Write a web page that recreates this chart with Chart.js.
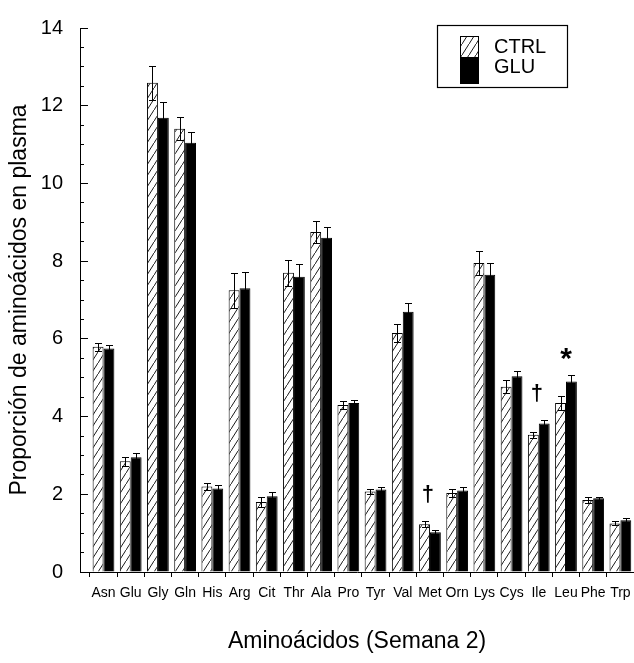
<!DOCTYPE html>
<html>
<head>
<meta charset="utf-8">
<script src="https://cdn.jsdelivr.net/npm/chart.js@4.4.1/dist/chart.umd.min.js"></script>
<style>
  html, body { margin: 0; padding: 0; background: #fff; }
  canvas { display: block; }
</style>
</head>
<body>
<canvas id="chart" width="634" height="663"></canvas>
<script>
const aminoAcids = ['Asn', 'Glu', 'Gly', 'Gln', 'His', 'Arg', 'Cit', 'Thr', 'Ala', 'Pro',
    'Tyr', 'Val', 'Met', 'Orn', 'Lys', 'Cys', 'Ile', 'Leu', 'Phe', 'Trp'];
const ctrlValues = [5.80, 2.85, 12.59, 11.41, 2.20, 7.25, 1.80, 7.70, 8.75, 4.30,
    2.07, 6.15, 1.23, 2.03, 7.95, 4.77, 3.53, 4.35, 1.85, 1.25];
const ctrlErrors = [0.10, 0.12, 0.44, 0.29, 0.08, 0.45, 0.12, 0.33, 0.28, 0.10,
    0.07, 0.22, 0.08, 0.10, 0.30, 0.16, 0.08, 0.17, 0.07, 0.05];
const gluValues = [5.75, 2.95, 11.69, 11.05, 2.15, 7.30, 1.95, 7.60, 8.60, 4.35,
    2.12, 6.70, 1.02, 2.10, 7.65, 5.04, 3.82, 4.90, 1.90, 1.33];
const gluErrors = [0.10, 0.12, 0.40, 0.27, 0.08, 0.43, 0.12, 0.33, 0.28, 0.08,
    0.07, 0.22, 0.05, 0.10, 0.30, 0.13, 0.08, 0.16, 0.04, 0.06];
// significance marks above each pair ('' = none)
const markers = ['', '', '', '', '', '', '', '', '', '',
    '', '', '\u2020', '', '', '', '\u2020', '*', '', ''];

const FONT = "'Liberation Sans', Arial, Helvetica, sans-serif";

function hatchPattern() {
    const c = document.createElement('canvas');
    c.width = 7;
    c.height = 11;
    const g = c.getContext('2d');
    g.fillStyle = '#fff';
    g.fillRect(0, 0, 7, 11);
    g.strokeStyle = '#000';
    g.lineWidth = 0.9;
    g.beginPath();
    g.moveTo(-1, 11 + 11 / 7);
    g.lineTo(8, -11 / 7);
    g.stroke();
    return g.createPattern(c, 'repeat');
}
const hatch = hatchPattern();

const toPoints = (vals) => vals.map((v, i) => ({ x: i, y: v }));

// error bars drawn from the bar elements and the y scale
const errorBars = {
    id: 'errorBars',
    afterDatasetsDraw(chart) {
        const ctx = chart.ctx;
        const y = chart.scales.y;
        chart.data.datasets.forEach((ds, di) => {
            const meta = chart.getDatasetMeta(di);
            meta.data.forEach((bar, i) => {
                const v = ds.data[i].y;
                const e = ds.errors[i];
                const x = Math.round(bar.x) + 0.5;
                const top = Math.round(y.getPixelForValue(v + e)) + 0.5;
                const bot = Math.round(y.getPixelForValue(v - e)) + 0.5;
                ctx.save();
                ctx.strokeStyle = '#000';
                ctx.lineWidth = 1;
                ctx.beginPath();
                ctx.moveTo(x, top); ctx.lineTo(x, bot);
                ctx.moveTo(x - 3.5, top); ctx.lineTo(x + 3.5, top);
                ctx.moveTo(x - 3.5, bot); ctx.lineTo(x + 3.5, bot);
                ctx.stroke();
                ctx.restore();
            });
        });
    }
};

const sigMarks = {
    id: 'sigMarks',
    afterDatasetsDraw(chart) {
        const ctx = chart.ctx;
        const xs = chart.scales.x;
        const y = chart.scales.y;
        markers.forEach((m, i) => {
            if (!m) return;
            const cap = Math.max(ctrlValues[i] + ctrlErrors[i], gluValues[i] + gluErrors[i]);
            const py = y.getPixelForValue(cap);
            ctx.save();
            ctx.fillStyle = '#000';
            ctx.textAlign = 'center';
            ctx.textBaseline = 'alphabetic';
            if (m === '*') {
                ctx.font = 'bold 30px ' + FONT;
                ctx.fillText(m, xs.getPixelForValue(i), py - 7);
            } else {
                ctx.font = 'bold 22px ' + FONT;
                ctx.fillText(m, xs.getPixelForValue(i) - 2, py - 20);
            }
            ctx.restore();
        });
    }
};

const boxLegend = {
    id: 'boxLegend',
    afterDraw(chart) {
        const ctx = chart.ctx;
        const ds = chart.data.datasets;
        ctx.save();
        ctx.strokeStyle = '#000';
        ctx.lineWidth = 1.2;
        ctx.strokeRect(437.5, 25.5, 130, 62);
        // stacked swatches
        ctx.fillStyle = ds[0].backgroundColor;
        ctx.fillRect(460, 36, 19, 21);
        ctx.fillStyle = ds[1].backgroundColor;
        ctx.fillRect(460, 57, 19, 27);
        ctx.lineWidth = 1;
        ctx.strokeRect(460.5, 36.5, 18, 47);
        ctx.fillStyle = '#000';
        ctx.font = '20px ' + FONT;
        ctx.textAlign = 'left';
        ctx.textBaseline = 'middle';
        ctx.fillText(ds[0].label, 494, 47);
        ctx.fillText(ds[1].label, 494, 67);
        ctx.restore();
    }
};

const ctx = document.getElementById('chart').getContext('2d');
new Chart(ctx, {
    type: 'bar',
    data: {
        datasets: [{
            label: 'CTRL',
            data: toPoints(ctrlValues),
            errors: ctrlErrors,
            backgroundColor: hatch,
            borderColor: '#000',
            borderWidth: 1,
            barPercentage: 1.0,
            categoryPercentage: 0.8
        }, {
            label: 'GLU',
            data: toPoints(gluValues),
            errors: gluErrors,
            backgroundColor: '#000',
            borderColor: '#000',
            borderWidth: 1,
            barPercentage: 1.0,
            categoryPercentage: 0.8
        }]
    },
    options: {
        responsive: false,
        animation: false,
        devicePixelRatio: 1,
        layout: { padding: { top: 28, right: 0, bottom: 0, left: 0 } },
        plugins: {
            legend: { display: false },
            tooltip: { enabled: false }
        },
        scales: {
            x: {
                type: 'linear',
                min: -0.864,
                max: 19.5,
                offset: false,
                afterBuildTicks: (scale) => {
                    scale.ticks = aminoAcids.map((_, i) => ({ value: i }));
                },
                afterFit: (scale) => {
                    scale.height = 91;
                    scale.paddingLeft = 0;
                    scale.paddingRight = 0;
                },
                border: { display: true, color: '#000', width: 1 },
                grid: {
                    display: true,
                    drawOnChartArea: false,
                    offset: true,
                    color: '#000',
                    tickLength: 5
                },
                ticks: {
                    autoSkip: false,
                    maxRotation: 0,
                    minRotation: 0,
                    padding: 8,
                    color: '#000',
                    font: { family: FONT, size: 14 },
                    callback: (v) => aminoAcids[v]
                },
                title: {
                    display: true,
                    text: 'Aminoácidos (Semana 2)',
                    color: '#000',
                    font: { family: FONT, size: 23 },
                    padding: { top: 0, bottom: 8 }
                }
            },
            y: {
                min: 0,
                max: 14,
                weight: 1,
                afterFit: (scale) => {
                    scale.width = 80;
                    scale.paddingTop = 0;
                    scale.paddingBottom = 0;
                },
                border: { display: true, color: '#000', width: 1 },
                grid: {
                    display: true,
                    drawOnChartArea: false,
                    color: '#000',
                    tickLength: -8
                },
                ticks: {
                    stepSize: 2,
                    padding: 25,
                    color: '#000',
                    font: { family: FONT, size: 20 }
                },
                title: {
                    display: true,
                    text: 'Proporción de aminoácidos en plasma',
                    color: '#000',
                    font: { family: FONT, size: 23 },
                    padding: { top: 6, bottom: 0 }
                }
            },
            yMinor: {
                position: 'left',
                min: 0,
                max: 14,
                weight: 0,
                afterFit: (scale) => {
                    scale.width = 0;
                    scale.paddingTop = 0;
                    scale.paddingBottom = 0;
                },
                border: { display: false },
                grid: {
                    display: true,
                    drawOnChartArea: false,
                    color: '#000',
                    tickLength: -4
                },
                ticks: { display: false, stepSize: 0.5 }
            }
        }
    },
    plugins: [errorBars, sigMarks, boxLegend]
});
</script>
</body>
</html>
